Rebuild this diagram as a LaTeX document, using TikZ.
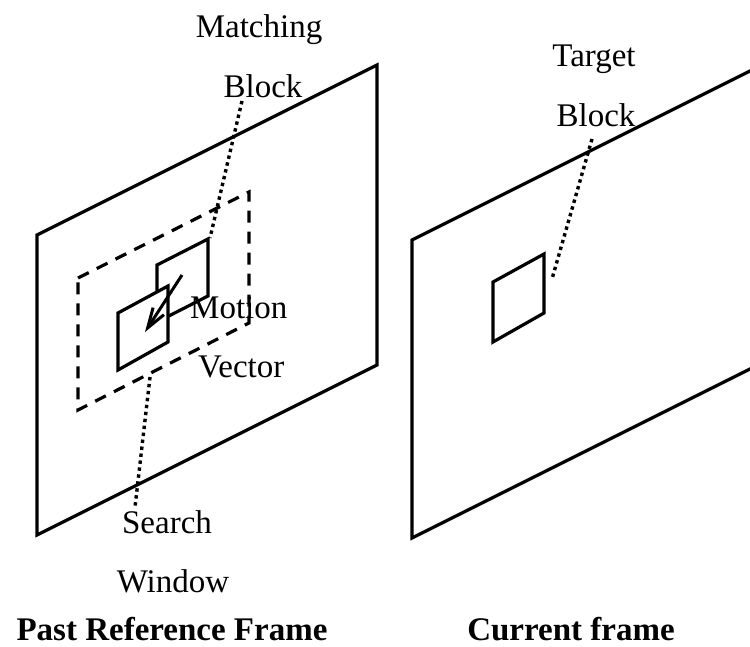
\documentclass[tikz,border=0pt]{standalone}
\usepackage{fontspec}
\setmainfont{Liberation Serif}
\usetikzlibrary{arrows.meta}
\begin{document}
\begin{tikzpicture}[x=1pt,y=-1pt,
  frameline/.style={line width=3.2pt, line join=miter},
  winline/.style={line width=3.2pt, dash pattern=on 12pt off 9pt},
  blockline/.style={line width=3.2pt, line join=miter},
  pointer/.style={line width=3.4pt, dash pattern=on 3.4pt off 3.6pt},
  lbl/.style={font=\fontsize{33}{38}\selectfont, inner sep=0pt, anchor=base},
  ttl/.style={font=\fontsize{33}{38}\selectfont\bfseries, inner sep=0pt, anchor=base}]
\useasboundingbox (0,0) rectangle (750,647);

% past reference frame
\draw[frameline] (37,235) -- (377,65) -- (377,365) -- (37,535) -- cycle;
% search window
\draw[winline] (78,278) -- (249,192) -- (249,323) -- (78,410) -- cycle;
% matching block, partly hidden behind the candidate block
\draw[blockline] (157,265) -- (208,239) -- (208,296) -- (157,322) -- cycle;
\draw[blockline, fill=white] (118,313) -- (168,286) -- (168,342) -- (118,370) -- cycle;
% motion vector
\coordinate (mvfrom) at (182,275);
\coordinate (mvto) at (145,332);
\draw[line width=3pt, -{Straight Barb[length=20pt,width=13pt,line width=3pt]}] (mvfrom) -- (mvto);

% current frame (runs off the right edge)
\draw[frameline] (412,240) -- (760,66) -- (760,364) -- (412,538) -- cycle;
% target block
\draw[blockline] (493,282) -- (544,254) -- (544,313) -- (493,342) -- cycle;

% labels
\node[lbl] (matching) at (259,38) {Matching};
\node[lbl] (mblock) at (263,98) {Block};
\node[lbl, anchor=base west] (motion) at (190,318) {Motion};
\node[lbl, anchor=base west] (vector) at (198,377) {Vector};
\node[lbl] (target) at (594,67) {Target};
\node[lbl] (tblock) at (596,127) {Block};
\node[lbl] (search) at (167,533) {Search};
\node[lbl] (window) at (173,592) {Window};
\node[ttl] (pasttitle) at (172,640) {Past Reference Frame};
\node[ttl] (curtitle) at (571,640) {Current frame};

% dotted pointers
\coordinate (mbtail) at (242,101);
\coordinate (mbhead) at (210,238);
\coordinate (swtail) at (150,377);
\coordinate (swhead) at (135,507);
\coordinate (tbtail) at (592,139);
\coordinate (tbhead) at (552,279);
\draw[pointer] (mbtail) -- (mbhead);
\draw[pointer] (swtail) -- (swhead);
\draw[pointer] (tbtail) -- (tbhead);
\end{tikzpicture}
\end{document}
